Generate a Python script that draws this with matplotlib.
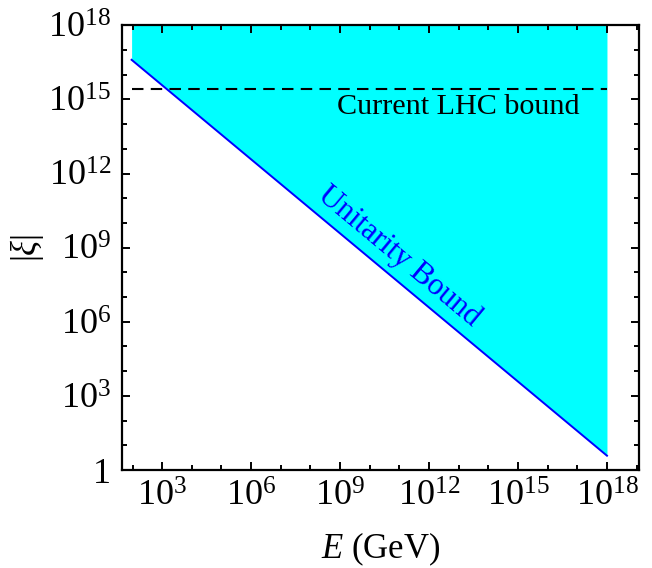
import numpy as np
import matplotlib
matplotlib.use("Agg")
import matplotlib.pyplot as plt
from matplotlib.ticker import LogLocator, FuncFormatter, NullFormatter

plt.rcParams['font.family'] = ['Liberation Serif', 'DejaVu Serif']
plt.rcParams['mathtext.fontset'] = 'custom'
plt.rcParams['mathtext.rm'] = 'Liberation Serif'
plt.rcParams['mathtext.it'] = 'Liberation Serif:italic'

# unitarity bound |xi| < C / E at the two ends
E_unit = [93.0, 1e18]
xi_unit = [4.0e16, 3.8]

# current LHC bound
xi_lhc = 2.6e15
E_lhc = [93.0, 1e18]

xi_top = 1e18
x_ticks = [1e3, 1e6, 1e9, 1e12, 1e15, 1e18]
y_ticks = [1, 1e3, 1e6, 1e9, 1e12, 1e15, 1e18]

fig = plt.figure(figsize=(6.52, 5.68), dpi=100)
ax = fig.add_axes([0.1875, 0.1725, 0.793, 0.783])

ax.set_xscale('log')
ax.set_yscale('log')
ax.set_xlim(45, 1.23e19)
ax.set_ylim(1, 1e18)

ax.fill_between(E_unit, xi_unit, xi_top, color='#00ffff', lw=0, zorder=1)
ax.plot(E_unit, xi_unit, color='#0000ff', lw=1.4, zorder=3)
ax.plot(E_lhc, [xi_lhc, xi_lhc], color='black', lw=1.5, ls=(0, (5.5, 3.5)), zorder=3)

ax.text(10**13.0, 10**14.68, 'Current LHC bound', fontsize=21.7, ha='center', va='center')

# angle of the unitarity line on screen
p = ax.transData.transform(np.column_stack([E_unit, xi_unit]))
ang = np.degrees(np.arctan2(p[1, 1] - p[0, 1], p[1, 0] - p[0, 0]))
ax.text(10**11.0, 10**8.65, 'Unitarity Bound', fontsize=22.3, color='#0000ff',
        rotation=ang, rotation_mode='anchor', ha='center', va='center')

def fmt(v, pos):
    e = int(round(np.log10(v)))
    return '1' if e == 0 else r'$10^{%d}$' % e

ax.xaxis.set_major_locator(plt.FixedLocator(x_ticks))
ax.yaxis.set_major_locator(plt.FixedLocator(y_ticks))
ax.xaxis.set_minor_locator(LogLocator(base=10, numticks=40))
ax.yaxis.set_minor_locator(LogLocator(base=10, numticks=40))
ax.xaxis.set_minor_formatter(NullFormatter())
ax.yaxis.set_minor_formatter(NullFormatter())
ax.xaxis.set_major_formatter(FuncFormatter(fmt))
ax.yaxis.set_major_formatter(FuncFormatter(fmt))

ax.tick_params(which='both', direction='in', top=True, right=True, width=1.4, labelsize=26)
ax.tick_params(which='major', length=6, pad=8)
ax.tick_params(which='minor', length=3.5)
for s in ax.spines.values():
    s.set_linewidth(1.6)

ax.set_xlabel(r'$E$ (GeV)', fontsize=25, labelpad=12)
ax.set_ylabel(r'$|\xi|$', fontsize=25, labelpad=2)

fig.savefig('out.png', dpi=100)
